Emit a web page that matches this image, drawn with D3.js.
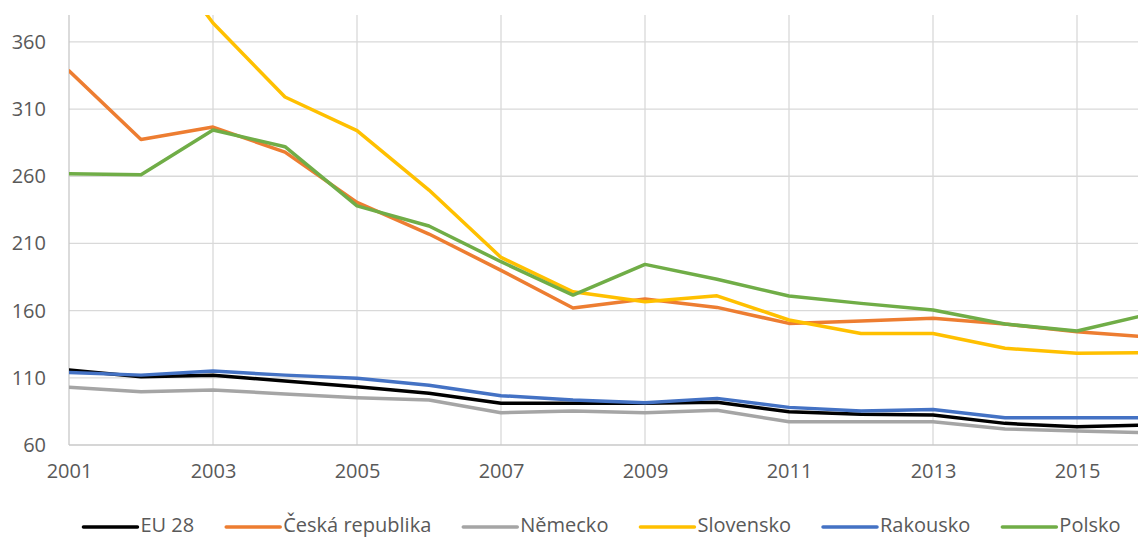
<!DOCTYPE html>
<html>
<head>
<meta charset="utf-8">
<script src="https://cdn.jsdelivr.net/npm/d3@7"></script>
<style>
  body { margin: 0; background: #fff; }
  svg { display: block; font-family: "Open Sans", "Liberation Sans", Arial, sans-serif; }
</style>
</head>
<body>
<div id="chart"></div>
<script>
// Data
var years = [2001, 2002, 2003, 2004, 2005, 2006, 2007, 2008, 2009, 2010, 2011, 2012, 2013, 2014, 2015, 2016];
var seriesNames = ["EU 28", "Česká republika", "Německo", "Slovensko", "Rakousko", "Polsko"];
var seriesColors = ["#000000", "#ED7D31", "#A5A5A5", "#FFC000", "#4472C4", "#70AD47"];

var eu28     = [115.8, 110.8, 111.9, 107.6, 103.4, 98.5, 91, 91, 91, 91.8, 84.8, 82.8, 82.3, 76.1, 73.6, 75];
var cesko    = [338.5, 287.4, 296.6, 278, 240.6, 217, 190, 162, 168.6, 162.4, 150.5, 152.3, 154.3, 150, 144.3, 140.4];
var nemecko  = [103, 99.7, 101, 98, 95.2, 93.5, 84, 85.3, 84, 85.8, 77.3, 77.3, 77.3, 71.9, 70.4, 69.2];
var slovensko = [470, 446, 374, 319, 293.9, 249.7, 199.6, 174, 166.6, 171, 153, 143, 143, 132, 128.2, 128.8];
var rakousko = [114, 112, 115, 112, 109.6, 104.4, 96.7, 93.5, 91.5, 94.7, 88, 85.3, 86.5, 80.3, 80.3, 80.2];
var polsko   = [261.9, 261.2, 294.4, 282, 238, 223, 196.4, 171.6, 194.4, 183.3, 170.9, 165.4, 160.4, 150, 144.8, 157.3];

var yTicks = [60, 110, 160, 210, 260, 310, 360];
var xTicks = [2001, 2003, 2005, 2007, 2009, 2011, 2013, 2015];

var allSeries = [eu28, cesko, nemecko, slovensko, rakousko, polsko];

// Chart size; the plot runs past the right edge like the original crop
const W = 1138, H = 537;
const plot = {left: 69, top: 15, bottom: 445, right: 1149};
const fontFamily = "Open Sans, Liberation Sans, Arial, sans-serif";

var svg = d3.select("#chart")
  .append("svg")
  .attr("width", W)
  .attr("height", H);

const xScale = d3.scaleLinear().domain([2001, 2016]).range([plot.left, plot.right]);
const yScale = d3.scaleLinear().domain([60, 380]).range([plot.bottom, plot.top]);

svg.append("clipPath")
  .attr("id", "plot-clip")
  .append("rect")
  .attr("x", plot.left)
  .attr("y", plot.top)
  .attr("width", W - plot.left)
  .attr("height", plot.bottom - plot.top);

// Horizontal gridlines
svg.append("g")
  .selectAll("line")
  .data(yTicks.slice(1))
  .join("line")
  .attr("x1", plot.left)
  .attr("x2", W)
  .attr("y1", d => yScale(d))
  .attr("y2", d => yScale(d))
  .attr("stroke", "#d9d9d9")
  .attr("stroke-width", 1.3);

// Vertical gridlines (every other year)
svg.append("g")
  .selectAll("line")
  .data(xTicks.slice(1))
  .join("line")
  .attr("x1", d => xScale(d))
  .attr("x2", d => xScale(d))
  .attr("y1", plot.top)
  .attr("y2", plot.bottom)
  .attr("stroke", "#d9d9d9")
  .attr("stroke-width", 1.3);

// Axis lines
svg.append("line")
  .attr("x1", plot.left).attr("x2", W)
  .attr("y1", plot.bottom).attr("y2", plot.bottom)
  .attr("stroke", "#c8c8c8").attr("stroke-width", 1.3);
svg.append("line")
  .attr("x1", plot.left).attr("x2", plot.left)
  .attr("y1", plot.top).attr("y2", plot.bottom)
  .attr("stroke", "#c8c8c8").attr("stroke-width", 1.3);

// Axis labels via d3 axes, lines hidden
var yAxis = svg.append("g")
  .attr("transform", "translate(" + plot.left + ",0)")
  .call(d3.axisLeft(yScale).tickValues(yTicks).tickSize(0).tickPadding(23));
yAxis.select(".domain").remove();
yAxis.selectAll("text")
  .attr("fill", "#595959")
  .style("font-size", "20px")
  .style("font-family", fontFamily);

var xAxis = svg.append("g")
  .attr("transform", "translate(0," + plot.bottom + ")")
  .call(d3.axisBottom(xScale).tickValues(xTicks).tickFormat(d3.format("d")).tickSize(0).tickPadding(19));
xAxis.select(".domain").remove();
xAxis.selectAll("text")
  .attr("fill", "#595959")
  .style("font-size", "20px")
  .style("font-family", fontFamily);

// Series lines
var line = d3.line()
  .x((d, i) => xScale(years[i]))
  .y(d => yScale(d));

svg.append("g")
  .attr("clip-path", "url(#plot-clip)")
  .selectAll("path")
  .data(allSeries)
  .join("path")
  .attr("d", d => line(d))
  .attr("fill", "none")
  .attr("stroke", (d, i) => seriesColors[i])
  .attr("stroke-width", 3.5)
  .attr("stroke-linejoin", "round")
  .attr("stroke-linecap", "round");

// Legend
var legend = svg.append("g");
var items = legend.selectAll("g")
  .data(seriesNames)
  .join("g");
items.append("line")
  .attr("x1", 0).attr("x2", 54)
  .attr("y1", 527).attr("y2", 527)
  .attr("stroke", (d, i) => seriesColors[i])
  .attr("stroke-width", 3.5)
  .attr("stroke-linecap", "round");
items.append("text")
  .attr("x", 57)
  .attr("y", 532)
  .attr("fill", "#595959")
  .style("font-size", "20px")
  .style("font-family", fontFamily)
  .text(d => d);

// Lay the legend items out one after another
var offset = 0;
var widths = [];
items.each(function() {
  widths.push(57 + d3.select(this).select("text").node().getComputedTextLength());
});
var gap = 32;
var total = d3.sum(widths) + gap * (widths.length - 1);
var start = 602 - total / 2;
items.attr("transform", function(d, i) {
  var x = start + offset;
  offset += widths[i] + gap;
  return "translate(" + x + ",0)";
});
</script>
</body>
</html>
